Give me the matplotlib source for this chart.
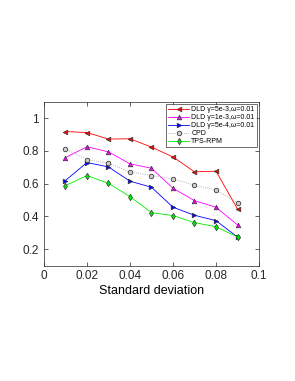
import matplotlib.pyplot as plt
import numpy as np

plt.rcParams['font.family'] = ['Liberation Sans', 'DejaVu Sans']

sigma = [0.01, 0.02, 0.03, 0.04, 0.05, 0.06, 0.07, 0.08, 0.09]
dld_5e3 = [0.918, 0.912, 0.872, 0.874, 0.823, 0.763, 0.672, 0.676, 0.445]
dld_1e3 = [0.759, 0.825, 0.794, 0.721, 0.694, 0.572, 0.496, 0.456, 0.348]
dld_5e4 = [0.619, 0.729, 0.702, 0.615, 0.578, 0.456, 0.407, 0.374, 0.274]
cpd = [0.812, 0.747, 0.725, 0.672, 0.649, 0.629, 0.590, 0.562, 0.482]
tps_rpm = [0.588, 0.649, 0.602, 0.521, 0.423, 0.405, 0.362, 0.337, 0.274]

fig = plt.figure(figsize=(2.95, 3.81), dpi=100)
ax = fig.add_axes([0.149, 0.303, 0.729, 0.43])

ms = 3.3
lw = 0.6
ax.plot(sigma, dld_5e3, color='r', marker='<', ms=ms, lw=lw, mec='#333333', mfc='r', mew=0.5,
        label='DLD \u03b3=5e-3,\u03c9=0.01')
ax.plot(sigma, dld_1e3, color='#ff00ff', marker='^', ms=ms, lw=lw, mec='#333333', mfc='#ff00ff', mew=0.5,
        label='DLD \u03b3=1e-3,\u03c9=0.01')
ax.plot(sigma, dld_5e4, color='b', marker='>', ms=ms, lw=lw, mec='#333333', mfc='b', mew=0.5,
        label='DLD \u03b3=5e-4,\u03c9=0.01')
ax.plot(sigma, cpd, color='#999999', ls=':', marker='o', ms=ms, lw=lw, mec='#222222', mfc='#cccccc', mew=0.5,
        label='CPD')
ax.plot(sigma, tps_rpm, color='#00ee00', marker='d', ms=ms, lw=lw, mec='#333333', mfc='#00ee00', mew=0.5,
        label='TPS-RPM')

ax.set_xlim(0, 0.1)
ax.set_ylim(0.1, 1.1)
ax.set_xticks([0, 0.02, 0.04, 0.06, 0.08, 0.1])
ax.set_xticklabels(['0', '0.02', '0.04', '0.06', '0.08', '0.1'])
ax.set_yticks([0.2, 0.4, 0.6, 0.8, 1.0])
ax.set_yticklabels(['0.2', '0.4', '0.6', '0.8', '1'])
ax.tick_params(direction='in', top=True, right=True, labelsize=8.5, length=3, width=0.5, colors='#262626')
for s in ax.spines.values():
    s.set_linewidth(0.5)
    s.set_color('#262626')
ax.set_xlabel('Standard deviation', fontsize=9, labelpad=1.5)

leg = ax.legend(loc='upper right', fontsize=5, frameon=True, fancybox=False,
                edgecolor='k', borderpad=0.3, labelspacing=0.15, handlelength=3,
                handletextpad=0.3, borderaxespad=0.35)
leg.get_frame().set_linewidth(0.5)

fig.savefig('out.png', dpi=100)
